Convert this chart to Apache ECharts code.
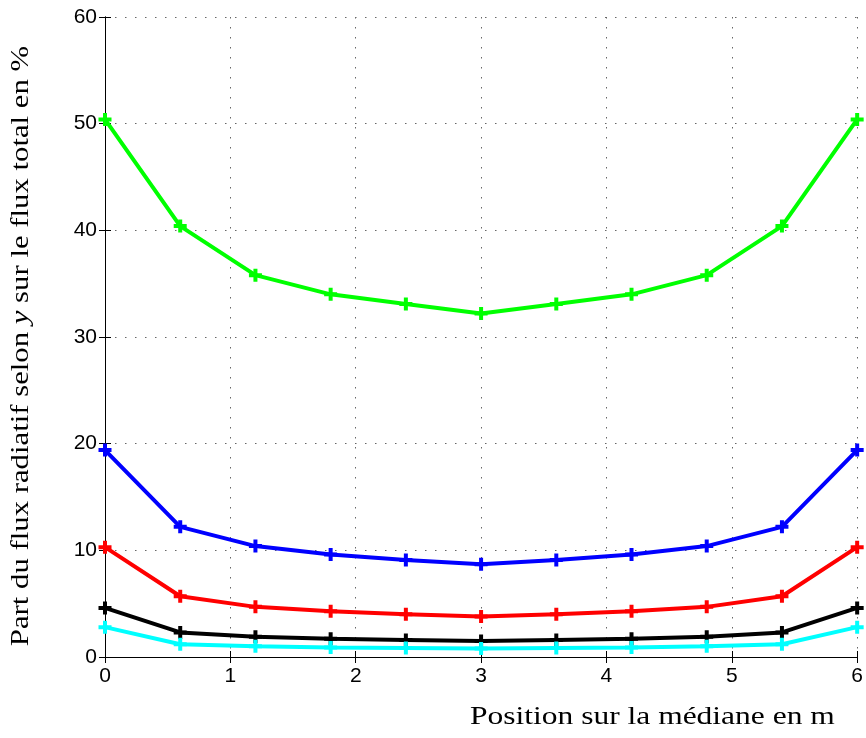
<!DOCTYPE html>
<html><head><meta charset="utf-8">
<script src="https://cdn.jsdelivr.net/npm/echarts@6/dist/echarts.min.js"></script>
<style>html,body{margin:0;padding:0;background:#fff}#c{width:866px;height:738px}</style>
</head><body><div id="c"></div>
<script>
const xPositions = [0, 0.6, 1.2, 1.8, 2.4, 3.0, 3.6, 4.2, 4.8, 5.4, 6.0];
const greenVals = [50.4, 40.4, 35.8, 34.0, 33.1, 32.2, 33.1, 34.0, 35.8, 40.4, 50.4];
const blueVals  = [19.4, 12.2, 10.4, 9.6, 9.1, 8.7, 9.1, 9.6, 10.4, 12.2, 19.4];
const redVals   = [10.3, 5.7, 4.7, 4.3, 4.0, 3.8, 4.0, 4.3, 4.7, 5.7, 10.3];
const blackVals = [4.6, 2.3, 1.9, 1.7, 1.6, 1.5, 1.6, 1.7, 1.9, 2.3, 4.6];
const cyanVals  = [2.8, 1.2, 1.0, 0.9, 0.85, 0.8, 0.85, 0.9, 1.0, 1.2, 2.8];
const xTitle = 'Position sur la médiane en m';
const yTitleParts = ['Part du flux radiatif selon ', 'y', ' sur le flux total en %'];

const chart = echarts.init(document.getElementById('c'), null, {renderer: 'canvas'});
const plus = 'path://M4.5,0h4v4.5h4.5v4h-4.5v4.5h-4v-4.5h-4.5v-4h4.5z';
function mk(vals, color) {
  return {
    type: 'line', data: xPositions.map((x, i) => [x, vals[i]]),
    symbol: plus, symbolSize: 13, showSymbol: true,
    lineStyle: {color, width: 4}, itemStyle: {color},
    emphasis: {disabled: true}, animation: false
  };
}
const tickFont = {fontFamily: 'Liberation Sans', fontSize: 21, color: '#000'};
const gridLine = {show: true, lineStyle: {color: '#666', type: [1.5, 8.5], width: 1}};
chart.setOption({
  animation: false,
  grid: {left: 105, right: 6, top: 17, bottom: 81, containLabel: false},
  xAxis: [{
    type: 'value', min: 0, max: 6, interval: 1,
    axisLine: {lineStyle: {color: '#000', width: 1}},
    axisTick: {inside: true, length: 6, lineStyle: {color: '#000'}},
    axisLabel: Object.assign({margin: 9}, tickFont),
    splitLine: gridLine
  }, {
    type: 'value', min: 0, max: 6, interval: 1, position: 'top',
    axisLine: {show: true, lineStyle: {color: '#000', width: 1}},
    axisTick: {show: true, inside: true, length: 6, lineStyle: {color: '#000'}},
    axisLabel: {show: false}, splitLine: {show: false}
  }],
  yAxis: [{
    type: 'value', min: 0, max: 60, interval: 10,
    axisLine: {show: true, lineStyle: {color: '#000', width: 1}},
    axisTick: {show: true, inside: true, length: 6, lineStyle: {color: '#000'}},
    axisLabel: Object.assign({margin: 8}, tickFont),
    splitLine: gridLine
  }, {
    type: 'value', min: 0, max: 60, interval: 10, position: 'right',
    axisLine: {show: true, lineStyle: {color: '#000', width: 1}},
    axisTick: {show: true, inside: true, length: 6, lineStyle: {color: '#000'}},
    axisLabel: {show: false}, splitLine: {show: false}
  }],
  series: [mk(greenVals, '#00ff00'), mk(blueVals, '#0000ff'), mk(redVals, '#ff0000'),
           mk(blackVals, '#000000'), mk(cyanVals, '#00ffff')],
  graphic: [{
    type: 'text', x: 470, y: 705, scaleX: 1.26,
    style: {text: xTitle, font: '25px "Liberation Serif", serif', fill: '#000'}
  }, {
    type: 'text', x: 21, y: 346, rotation: Math.PI / 2, scaleX: 1.23,
    style: {
      text: '{a|' + yTitleParts[0] + '}{i|' + yTitleParts[1] + '}{a|' + yTitleParts[2] + '}',
      align: 'center', verticalAlign: 'middle',
      rich: {
        a: {font: '25px "Liberation Serif", serif', fill: '#000'},
        i: {font: 'italic 25px "Liberation Serif", serif', fill: '#000'}
      }
    }
  }]
});
</script></body></html>
